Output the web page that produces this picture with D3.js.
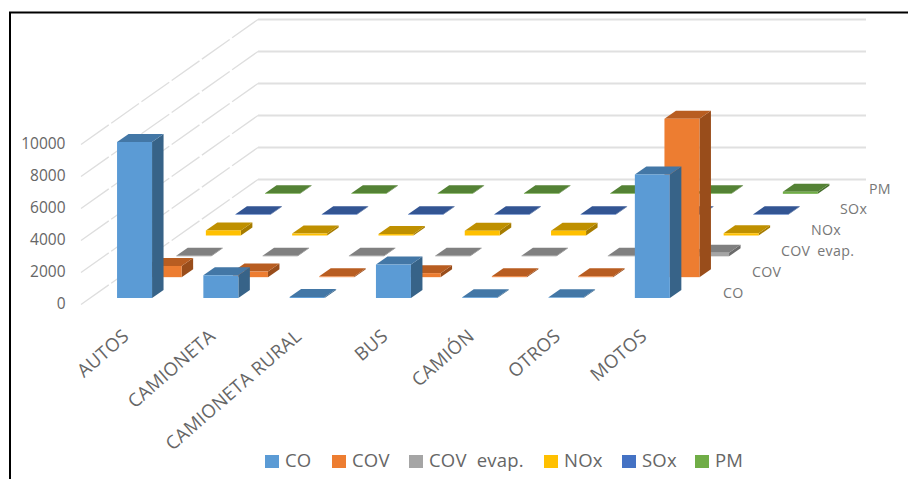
<!DOCTYPE html>
<html>
<head>
<meta charset="utf-8">
<script src="https://cdn.jsdelivr.net/npm/d3@7"></script>
<style>
html,body{margin:0;padding:0;background:#fff;}
svg{display:block;}
text{font-family:"Open Sans",sans-serif;}
</style>
</head>
<body>
<svg id="chart" width="908" height="479"></svg>
<script>
// Emissions by vehicle class and pollutant, drawn as an oblique 3-D column chart.
const categories = ["AUTOS","CAMIONETA","CAMIONETA RURAL","BUS","CAMIÓN","OTROS","MOTOS"];
const seriesNames = ["CO","COV","COV evap.","NOx","SOx","PM"];
const valuesCO      = [9750,1420,60,2090,50,40,7720];
const valuesCOV     = [700,350,50,250,60,50,9900];
const valuesCOVevap = [40,40,40,40,40,40,220];
const valuesNOx     = [320,120,90,300,300,100,140];
const valuesSOx     = [30,30,30,30,30,30,30];
const valuesPM      = [40,40,40,40,40,40,130];
const yTicks = [0,2000,4000,6000,8000,10000];
const frontColors = ["#5B9BD5","#ED7D31","#A5A5A5","#FFC000","#4472C4","#70AD47"];
const topColors   = ["#4377A6","#B85D21","#808080","#BF9000","#335593","#548235"];
const sideColors  = ["#376388","#994D1B","#6B6B6B","#A67C00","#2B4A80","#466F2C"];

const allValues = [valuesCO,valuesCOV,valuesCOVevap,valuesNOx,valuesSOx,valuesPM];

const svg = d3.select("#chart");

// Picture frame around the chart
svg.append("path").attr("d","M10,479V12.5H908").attr("fill","none").attr("stroke","#000").attr("stroke-width",2);

// Scales: value height, category offset along x, and series offset along the depth axis
const y = d3.scaleLinear().domain([0,10000]).range([0,160]);
const xCat = d3.scaleBand().domain(categories).range([90.1,694.2]);
const zX = d3.scaleBand().domain(seriesNames).range([0,177.6]);
const zY = d3.scaleBand().domain(seriesNames).range([0,125]);

const originX = 81, originY = 304.5;
const depthX = 177, depthY = 125;
const wallRight = 866;

// Oblique placement of a floor point: category position plus depth offset
const barWidth = 35, barDepthX = 11.5, barDepthY = 8;
const columnX = (cat, ser) => xCat(cat) + (xCat.bandwidth()-barWidth)/2 + zX(ser) + 1.3;
const columnY = (ser) => 298 - zY(ser);

// Gridlines: diagonal on the side wall, horizontal on the back wall
const grid = svg.append("g");
yTicks.forEach(t => {
  const h = y(t);
  grid.append("line")
    .attr("x1",originX).attr("y1",originY-h)
    .attr("x2",originX+depthX).attr("y2",originY-depthY-h)
    .attr("stroke","#dedede").attr("stroke-width",1.3).attr("stroke-dasharray","34 3");
  grid.append("line")
    .attr("x1",originX+depthX).attr("y1",originY-depthY-h)
    .attr("x2",wallRight).attr("y2",originY-depthY-h)
    .attr("stroke","#e0e0e0").attr("stroke-width",1.8);
});

// Value axis labels
svg.append("g").selectAll("text").data(yTicks).join("text")
  .attr("x",65.5).attr("y",t => originY-y(t)+0.5)
  .attr("text-anchor","end").attr("dominant-baseline","middle")
  .attr("font-size",15.5).attr("fill","#666")
  .text(t => t);

// Columns, painted from the back row forward so nearer boxes overlap farther ones
const bars = svg.append("g");
seriesNames.map((s,i)=>i).reverse().forEach(si => {
  const ser = seriesNames[si];
  categories.forEach((cat,ci) => {
    const h = Math.max(y(allValues[si][ci]),0.5);
    const x0 = columnX(cat,ser), yb = columnY(ser), yt = yb-h;
    const g = bars.append("g");
    g.append("path").attr("fill",sideColors[si])
      .attr("d",d3.line()([[x0+barWidth,yb],[x0+barWidth+barDepthX,yb-barDepthY],[x0+barWidth+barDepthX,yt-barDepthY],[x0+barWidth,yt]])+"Z");
    g.append("path").attr("fill",topColors[si])
      .attr("d",d3.line()([[x0,yt],[x0+barDepthX,yt-barDepthY],[x0+barWidth+barDepthX,yt-barDepthY],[x0+barWidth,yt]])+"Z");
    g.append("rect").attr("x",x0).attr("y",yt).attr("width",barWidth).attr("height",h).attr("fill",frontColors[si]);
  });
});

// Category labels, slanted and ending under each column group
svg.append("g").selectAll("text").data(categories).join("text")
  .attr("transform",c => `translate(${xCat(c)+xCat.bandwidth()/2-3},338) rotate(-41)`)
  .attr("text-anchor","end")
  .attr("font-size",18.5).attr("letter-spacing",0.3).attr("fill","#666")
  .text(c => c);

// Series labels along the depth axis
const zLabelX = [723,752,781,811,840,869];
svg.append("g").selectAll("text").data(seriesNames).join("text")
  .attr("x",(s,i) => zLabelX[i])
  .attr("y",s => 294-zY(s))
  .attr("dominant-baseline","middle")
  .attr("font-size",14.2).attr("word-spacing",3).attr("letter-spacing",0.3).attr("fill","#777")
  .text(s => s);

// Legend
const legendX = [265,332,409,544,622,695];
const legend = svg.append("g").selectAll("g").data(seriesNames).join("g")
  .attr("transform",(s,i) => `translate(${legendX[i]},455)`);
legend.append("rect").attr("width",14).attr("height",13).attr("fill",(s,i)=>frontColors[i]);
legend.append("text").attr("x",20).attr("y",7).attr("dominant-baseline","middle")
  .attr("font-size",18.5).attr("word-spacing",5).attr("letter-spacing",0.2).attr("fill","#666").text(s => s);
</script>
</body>
</html>
